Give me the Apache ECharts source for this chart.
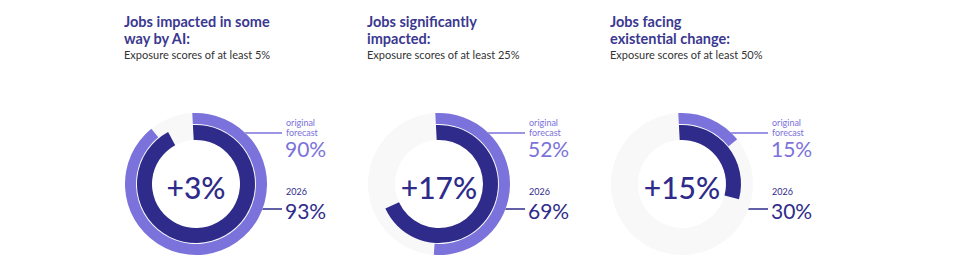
<!DOCTYPE html>
<html><head><meta charset="utf-8">
<script src="https://cdn.jsdelivr.net/npm/echarts@6/dist/echarts.min.js"></script>
<style>html,body{margin:0;padding:0;background:#fff}#c{width:960px;height:271px}</style>
</head><body><div id="c"></div>
<script>
const titleLine1 = ['Jobs impacted in some', 'Jobs significantly', 'Jobs facing'];
const titleLine2 = ['way by AI:', 'impacted:', 'existential change:'];
const subtitles = ['Exposure scores of at least 5%', 'Exposure scores of at least 25%', 'Exposure scores of at least 50%'];
const forecast = [90, 52, 15];
const actual2026 = [93, 69, 30];
const forecastLabel = 'original\nforecast';
const actualLabel = '2026';

const LIGHT = '#7B72DB', DARK = '#2E2B8A', TRACK = '#F8F8F8', TXT = '#3A3890';
const FONT = 'Lato, "Noto Sans", sans-serif';
const cx0 = 196, dx = 243, cy = 184;
const R_OUT = [60, 71], R_IN = [44, 59];
const START = 93;

const chart = echarts.init(document.getElementById('c'), null, {renderer: 'svg'});
const series = [];
const graphic = [];
forecast.forEach((f, i) => {
  const cx = cx0 + i * dx;
  const a = actual2026[i];
  series.push({type: 'pie', radius: [R_IN[0], R_OUT[1]], center: [cx, cy], silent: true, z: 1,
    label: {show: false}, labelLine: {show: false}, emphasis: {disabled: true},
    data: [{value: 100, itemStyle: {color: TRACK}}]});
  series.push({type: 'pie', radius: R_OUT, center: [cx, cy], startAngle: START, clockwise: true, silent: true, z: 3,
    label: {show: false}, labelLine: {show: false}, emphasis: {disabled: true},
    itemStyle: {borderWidth: 0},
    data: [{value: f, itemStyle: {color: LIGHT}}, {value: 100 - f, itemStyle: {color: 'rgba(0,0,0,0)'}}]});
  series.push({type: 'pie', radius: R_IN, center: [cx, cy], startAngle: START, clockwise: true, silent: true, z: 3,
    label: {show: false}, labelLine: {show: false}, emphasis: {disabled: true},
    itemStyle: {borderWidth: 0},
    data: [{value: a, itemStyle: {color: DARK}}, {value: 100 - a, itemStyle: {color: 'rgba(0,0,0,0)'}}]});

  const tx = cx - 72;
  graphic.push({type: 'text', left: tx, top: 14, style: {text: titleLine1[i], font: `bold 14.5px ${FONT}`, lineHeight: 14, fill: TXT}});
  graphic.push({type: 'text', left: tx, top: 31, style: {text: titleLine2[i], font: `bold 14.5px ${FONT}`, lineHeight: 14, fill: TXT}});
  graphic.push({type: 'text', left: tx, top: 48, style: {text: subtitles[i], font: `11px ${FONT}`, lineHeight: 12, fill: '#333'}});

  // centre delta
  graphic.push({type: 'text', x: cx, y: cy + 3, style: {text: '+' + (a - f) + '%', font: `500 30px ${FONT}`, fill: DARK, align: 'center', verticalAlign: 'middle'}});

  // leader lines
  const dyF = 51, dyA = 25;
  const xF = cx + Math.sqrt(R_OUT[1] * R_OUT[1] - dyF * dyF) - 1;
  const xA = cx + Math.sqrt(R_IN[1] * R_IN[1] - dyA * dyA) - 1;
  graphic.push({type: 'line', z: 0, shape: {x1: xF, y1: cy - dyF, x2: cx + 86, y2: cy - dyF}, style: {stroke: LIGHT, lineWidth: 1.5}});
  graphic.push({type: 'line', z: 0, shape: {x1: xA, y1: cy + dyA, x2: cx + 86, y2: cy + dyA}, style: {stroke: DARK, lineWidth: 1.5}});

  const lx = cx + 90;
  graphic.push({type: 'text', x: lx, y: 118, style: {text: forecastLabel, font: `9px ${FONT}`, lineHeight: 9.5, fill: LIGHT}});
  graphic.push({type: 'text', x: lx - 1, y: 139, style: {text: f + '%', font: `21px ${FONT}`, lineHeight: 19, fill: LIGHT}});
  graphic.push({type: 'text', x: lx, y: 187, style: {text: actualLabel, font: `9px ${FONT}`, lineHeight: 9, fill: DARK}});
  graphic.push({type: 'text', x: lx - 1, y: 201, style: {text: a + '%', font: `21px ${FONT}`, lineHeight: 19, fill: DARK}});
});
chart.setOption({animation: false, series, graphic: {elements: graphic}});
</script></body></html>
